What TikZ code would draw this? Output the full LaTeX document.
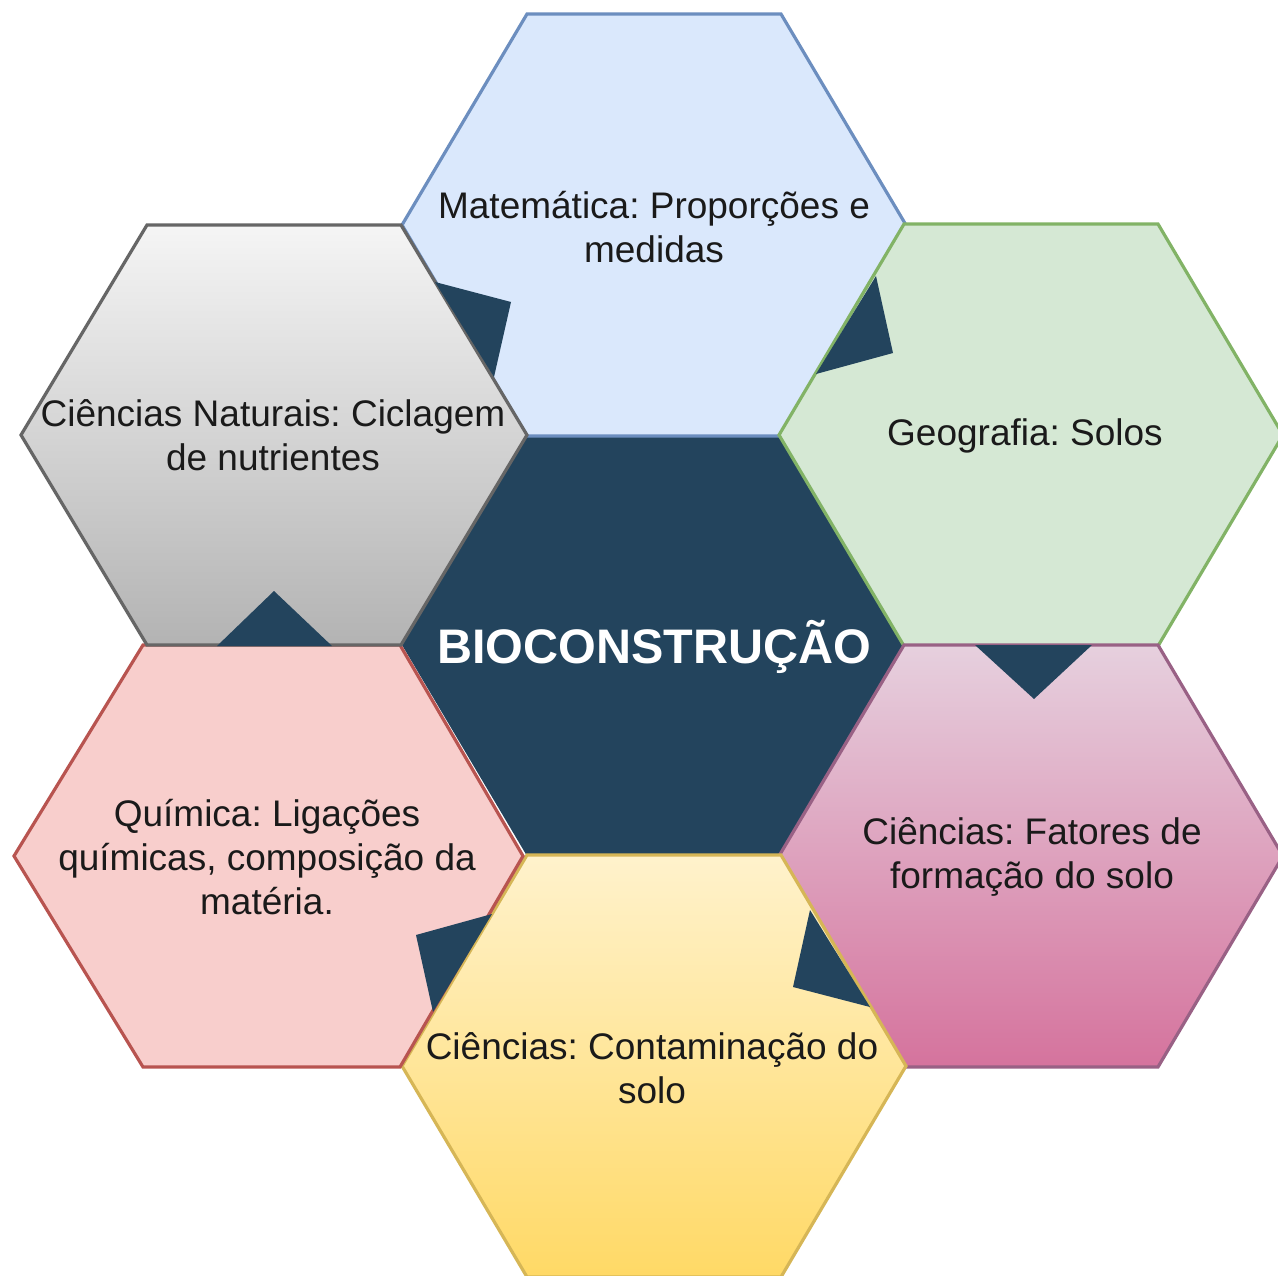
\documentclass[tikz,border=0pt]{standalone}
\usepackage{fontspec}
\setmainfont{Liberation Sans}
\frenchspacing
\definecolor{navy}{HTML}{23445D}
\definecolor{blueF}{HTML}{DAE8FC}\definecolor{blueD}{HTML}{6C8EBF}
\definecolor{greenF}{HTML}{D5E8D4}\definecolor{greenD}{HTML}{82B366}
\definecolor{pinkT}{HTML}{E6D0DE}\definecolor{pinkB}{HTML}{D5739D}\definecolor{pinkD}{HTML}{996185}
\definecolor{yelT}{HTML}{FFF2CC}\definecolor{yelB}{HTML}{FFD966}\definecolor{yelD}{HTML}{D6B656}
\definecolor{redF}{HTML}{F8CECC}\definecolor{redD}{HTML}{B85450}
\definecolor{grayT}{HTML}{F5F5F5}\definecolor{grayB}{HTML}{B3B3B3}\definecolor{grayD}{HTML}{666666}
\definecolor{txt}{HTML}{1A1A1A}
\newcommand\hexat[2]{(#1-252,#2) -- (#1-127,#2-211) -- (#1+127,#2-211) -- (#1+252,#2) -- (#1+127,#2+211) -- (#1-127,#2+211) -- cycle}
\begin{document}
\begin{tikzpicture}[x=1pt,y=-1pt,
  hexline/.style={line width=3.2pt,line join=miter},
  lbl/.style={align=center,text=txt,font=\fontsize{37}{44}\selectfont,inner sep=0pt},
  arrowtri/.style={fill=navy}]
\useasboundingbox (0,0) rectangle (1278,1276);
\clip (0,0) rectangle (1278,1276);
% center
\fill[navy] \hexat{654}{645};
% top
\path[hexline,fill=blueF,draw=blueD] \hexat{654}{225};
% top right
\path[hexline,fill=greenF,draw=greenD] \hexat{1031}{435};
% bottom right
\path[hexline,top color=pinkT,bottom color=pinkB,draw=pinkD] \hexat{1031}{856};
% bottom
\path[hexline,top color=yelT,bottom color=yelB,draw=yelD] \hexat{654}{1066};
% bottom left
\path[hexline,fill=redF,draw=redD] (14,856) -- (143,645) -- (400,645) -- (523,856) -- (400,1067) -- (143,1067) -- cycle;
% top left
\path[hexline,top color=grayT,bottom color=grayB,draw=grayD] (21,435) -- (147,225) -- (401,225) -- (527,435) -- (401,645) -- (147,645) -- cycle;
% arrow triangles
\fill[arrowtri] (435,282) -- (511,302) -- (494,377) -- cycle;
\fill[arrowtri] (876,276) -- (893,353) -- (816,374) -- cycle;
\fill[arrowtri] (975,645) -- (1092,645) -- (1034,699) -- cycle;
\fill[arrowtri] (810,910) -- (870,1007) -- (793,987) -- cycle;
\fill[arrowtri] (492,914) -- (433,1012) -- (416,935) -- cycle;
\fill[arrowtri] (217,646) -- (274,591) -- (332,646) -- cycle;
% labels
\node[lbl] (mat) at (654,227) {Matemática: Proporções e\\medidas};
\node[lbl] (geo) at (1025,436) {Geografia: Solos};
\node[lbl] (fat) at (1032,857) {Ciências: Fatores de\\formação do solo};
\node[lbl] (cont) at (652,1068) {Ciências: Contaminação do\\solo};
\node[lbl] (qui) at (267,857) {Química: Ligações\\químicas, composição da\\matéria.};
\node[lbl] (nat) at (273,435) {Ciências Naturais: Ciclagem\\de nutrientes};
\node[lbl,text=white,font=\bfseries\fontsize{48.5}{50}\selectfont] (bio) at (654,647) {BIOCONSTRUÇÃO};
\end{tikzpicture}
\end{document}
